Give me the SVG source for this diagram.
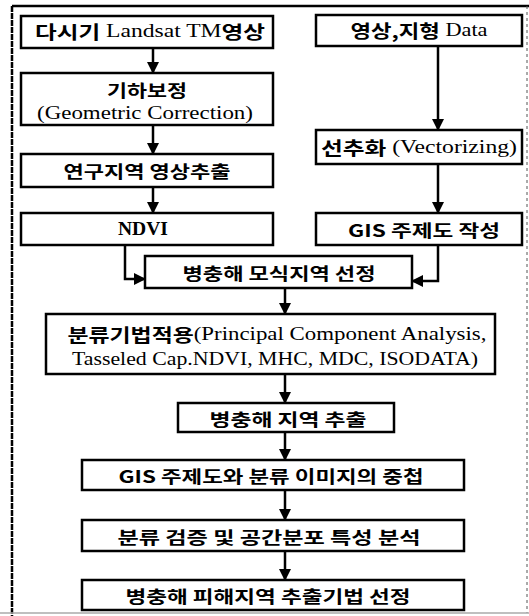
<svg xmlns="http://www.w3.org/2000/svg" width="529" height="616" viewBox="0 0 529 616">
<style>
.box{fill:#fff;stroke:#000;stroke-width:2.5}
.t{font-family:"Liberation Serif","Noto Sans CJK KR",serif;font-size:18px;font-weight:normal;fill:#000;text-anchor:middle;dominant-baseline:central}
.h{font-family:"Noto Sans CJK KR","Liberation Sans",sans-serif;font-weight:bold}
.k{font-family:"Noto Sans CJK KR","Liberation Sans",sans-serif;font-size:17px;font-weight:bold;fill:#000;text-anchor:middle;dominant-baseline:central}
.c{fill:none;stroke:#000;stroke-width:2.5;marker-end:url(#ah)}
</style>
<defs>
<marker id="ah" markerUnits="userSpaceOnUse" markerWidth="12" markerHeight="12" refX="11" refY="6" orient="auto">
<path d="M0,0 L12,6 L0,12 z" fill="#000"/>
</marker>
</defs>
<rect width="529" height="616" fill="#fff"/>
<g id="frame">
<line x1="12" y1="6" x2="12" y2="616" stroke="#000" stroke-width="2.5" stroke-dasharray="6 1"/>
<line x1="12" y1="6" x2="529" y2="6" stroke="#000" stroke-width="2.5"/>
<line x1="527" y1="6" x2="527" y2="613" stroke="#555" stroke-width="1" stroke-dasharray="3 3"/>
<line x1="0" y1="613" x2="529" y2="613" stroke="#aaa" stroke-width="1.5"/>
</g>
<g id="connectors">
<line class="c" x1="153" y1="48" x2="153" y2="73"/>
<line class="c" x1="153" y1="125" x2="153" y2="154"/>
<line class="c" x1="153" y1="187" x2="153" y2="213"/>
<line class="c" x1="438" y1="46" x2="438" y2="130"/>
<line class="c" x1="438" y1="164" x2="438" y2="213"/>
<polyline class="c" points="125,245 125,279 145,279"/>
<polyline class="c" points="438,245 438,281 412,281"/>
<line class="c" x1="285" y1="288" x2="285" y2="314"/>
<line class="c" x1="285" y1="374" x2="285" y2="403"/>
<line class="c" x1="285" y1="432" x2="285" y2="460"/>
<line class="c" x1="285" y1="490" x2="285" y2="520"/>
<line class="c" x1="285" y1="551" x2="285" y2="580"/>
</g>
<g id="n1"><rect class="box" x="21" y="16" width="252" height="32"/><text class="t" x="150" y="31" textLength="230" lengthAdjust="spacingAndGlyphs"><tspan class="h">다시기</tspan> Landsat TM<tspan class="h">영상</tspan></text></g>
<g id="n2"><rect class="box" x="21" y="73" width="252" height="52"/><text class="k" x="147" y="89" textLength="80" lengthAdjust="spacingAndGlyphs">기하보정</text><text class="t" x="145" y="113" textLength="216" lengthAdjust="spacingAndGlyphs">(Geometric Correction)</text></g>
<g id="n3"><rect class="box" x="21" y="154" width="252" height="33"/><text class="k" x="147" y="170" textLength="167" lengthAdjust="spacingAndGlyphs">연구지역 영상추출</text></g>
<g id="n4"><rect class="box" x="21" y="213" width="252" height="32"/><text class="t" x="143" y="229" textLength="50" lengthAdjust="spacingAndGlyphs" style="font-weight:bold">NDVI</text></g>
<g id="n5"><rect class="box" x="316" y="15" width="206" height="31"/><text class="t" x="419" y="30" textLength="137" lengthAdjust="spacingAndGlyphs"><tspan class="h">영상,지형</tspan> Data</text></g>
<g id="n6"><rect class="box" x="316" y="130" width="206" height="34"/><text class="t" x="419" y="147" textLength="196" lengthAdjust="spacingAndGlyphs"><tspan class="h">선추화</tspan> (Vectorizing)</text></g>
<g id="n7"><rect class="box" x="316" y="213" width="206" height="32"/><text class="k" x="424" y="229" textLength="152" lengthAdjust="spacingAndGlyphs">GIS 주제도 작성</text></g>
<g id="n8"><rect class="box" x="145" y="256" width="267" height="32"/><text class="k" x="279" y="272" textLength="193" lengthAdjust="spacingAndGlyphs">병충해 모식지역 선정</text></g>
<g id="n9"><rect class="box" x="46" y="314" width="449" height="60"/><text class="t" x="277" y="334" textLength="419" lengthAdjust="spacingAndGlyphs"><tspan class="h">분류기법적용</tspan>(Principal Component Analysis,</text><text class="t" x="275" y="359" textLength="406" lengthAdjust="spacingAndGlyphs">Tasseled Cap.NDVI, MHC, MDC, ISODATA)</text></g>
<g id="n10"><rect class="box" x="178" y="403" width="216" height="29"/><text class="k" x="288" y="418" textLength="157" lengthAdjust="spacingAndGlyphs">병충해 지역 추출</text></g>
<g id="n11"><rect class="box" x="82" y="460" width="382" height="30"/><text class="k" x="271" y="475" textLength="305" lengthAdjust="spacingAndGlyphs">GIS 주제도와 분류 이미지의 중첩</text></g>
<g id="n12"><rect class="box" x="82" y="520" width="382" height="31"/><text class="k" x="269" y="536" textLength="303" lengthAdjust="spacingAndGlyphs">분류 검증 및 공간분포 특성 분석</text></g>
<g id="n13"><rect class="box" x="82" y="580" width="382" height="30"/><text class="k" x="268" y="595" textLength="285" lengthAdjust="spacingAndGlyphs">병충해 피해지역 추출기법 선정</text></g>
</svg>
